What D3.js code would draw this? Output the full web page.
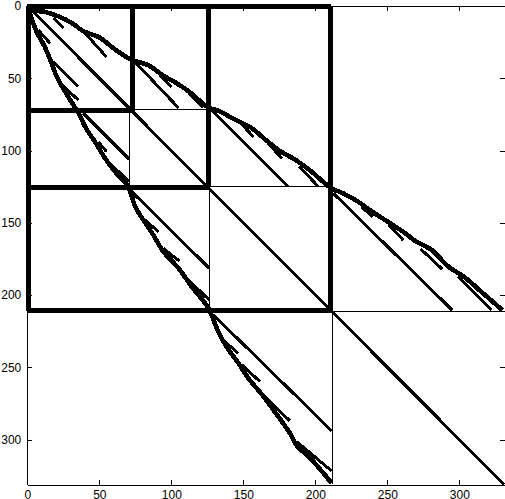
<!DOCTYPE html>
<html><head><meta charset="utf-8">
<style>html,body{margin:0;padding:0;background:#fff}svg{display:block}
text{font-family:"Liberation Sans",Arial,sans-serif;font-size:12px;fill:#000}</style>
<script src="https://cdn.jsdelivr.net/npm/d3@7"></script></head><body>
<svg id="c" width="505" height="499"></svg>
<script>
const tickValues=[0,50,100,150,200,250,300];
const domainX=[0,331.5], domainY=[0,331];
const mainDiagonal=[[0,0],[331,331]];
const upperBand=[[0.5,0.7],[3,2.8],[12.3,4.1],[22.7,7.6],[31,11.8],[38.7,17.3],[50.5,22],[59.5,29],[71.3,36.7],[84,41],[94,48],[103,53],[112,59],[125.5,70],[134,73],[143,78],[155,84],[166,93],[175,100],[187,107],[196,113.5],[211,126],[219,129.5],[229,135],[239,142],[252,150.4],[262,157],[270,163],[281,169],[292,180],[304,188],[315.5,198],[330,210.5]];
const lowerBand=[[0.5,0.7],[3,8.5],[6.5,18],[12,28],[17,40],[20.5,49],[27,60.5],[35.4,74],[41,85],[47,94],[54,105.4],[61,114.7],[70,125],[75,139],[80.5,148],[87.5,158.5],[94.5,170],[105,181.5],[114,194],[125.7,209],[132.6,225.4],[138.5,236],[146.5,247],[153.5,257.6],[163,269],[172,281],[182.4,295.7],[187,304],[197.5,314],[211.4,330.3]];
const upperStreaks=[[18,8.3,25,15.2],[40,18.7,55,35.3],[75,39,105,70.5],[92,48,100,56],[112,60,122,70.5],[127,71,181,125],[149,82,157,90.5],[167,95,177,105.5],[189,111,202,125],[212.5,129.6,295,210.4],[232,139,240,146],[251,151.6,261,162],[273,168,288,182],[299,187,322.5,210.4]];
const lowerStreaks=[[7.6,16.6,15.8,25.8],[18,38.5,35.4,55.8],[24,54.7,35.4,65],[38.9,74.3,70.8,106],[49.3,94,55,100.8],[56,107.7,70.8,121.6],[71.3,127.3,126.4,181.5],[81.7,148,91,156.2],[94.4,167.7,105.6,176.5],[109.5,187.3,126.4,203.5],[129.2,213.8,211.4,294],[137.3,232.3,146.5,240.4],[149,248.4,161.6,260],[163.9,269.2,182.4,287.2],[187,301.5,211.4,321.8]];
const thickRules=[[0.5,0,0.5,211],[0,0,211,0],[73,0,73,72.5],[0,72.5,73,72.5],[125.5,0,125.5,125.5],[0,125.5,125.5,125.5],[210.5,0,210.5,211],[0,210.6,211,210.6]];
const thinRules=[[71,72,71,125],[72,71.4,126,71.4],[126.4,125,126.4,211],[126,125.2,212,125.2],[212,211,212,331],[212,211.3,331.5,211.3]];

const svg=d3.select("#c");
const x=d3.scaleLinear().domain(domainX).range([27.3,504.7]);
const y=d3.scaleLinear().domain(domainY).range([6,484.3]);
const line=d3.line().x(d=>x(d[0])).y(d=>y(d[1]));
const bandLine=d3.line().x(d=>x(d[0])).y(d=>y(d[1])).curve(d3.curveCatmullRom);
const toPts=s=>[[s[0],s[1]],[s[2],s[3]]];
const g=svg.append("g").attr("fill","none").attr("stroke","#000").attr("shape-rendering","crispEdges").attr("stroke-linecap","butt");
function draw(list,w,gen){g.append("g").attr("stroke-width",w).selectAll("path").data(list).join("path").attr("d",gen||line);}
draw(thinRules.map(toPts),1);
draw(thickRules.map(toPts),5);
draw([mainDiagonal],3);
draw(upperStreaks.map(toPts),3);
draw(lowerStreaks.map(toPts),3);
draw([upperBand],4.6,bandLine);
draw([lowerBand],4.6,bandLine);

function axis(gen,tx,ty,labels,pad){
  const a=svg.append("g").attr("transform",`translate(${tx},${ty})`)
   .call(gen.tickValues(tickValues).tickSizeInner(-5).tickSizeOuter(0).tickPadding(pad||0));
  a.attr("font-family",null).attr("font-size",null).attr("shape-rendering","crispEdges");
  if(!labels)a.selectAll("text").remove();
  return a;
}
axis(d3.axisBottom(x),0,484.5,true,6);
axis(d3.axisTop(x),0,6,false);
axis(d3.axisLeft(y),27.3,0,true,6);
axis(d3.axisRight(y),504.5,0,false);
</script></body></html>
